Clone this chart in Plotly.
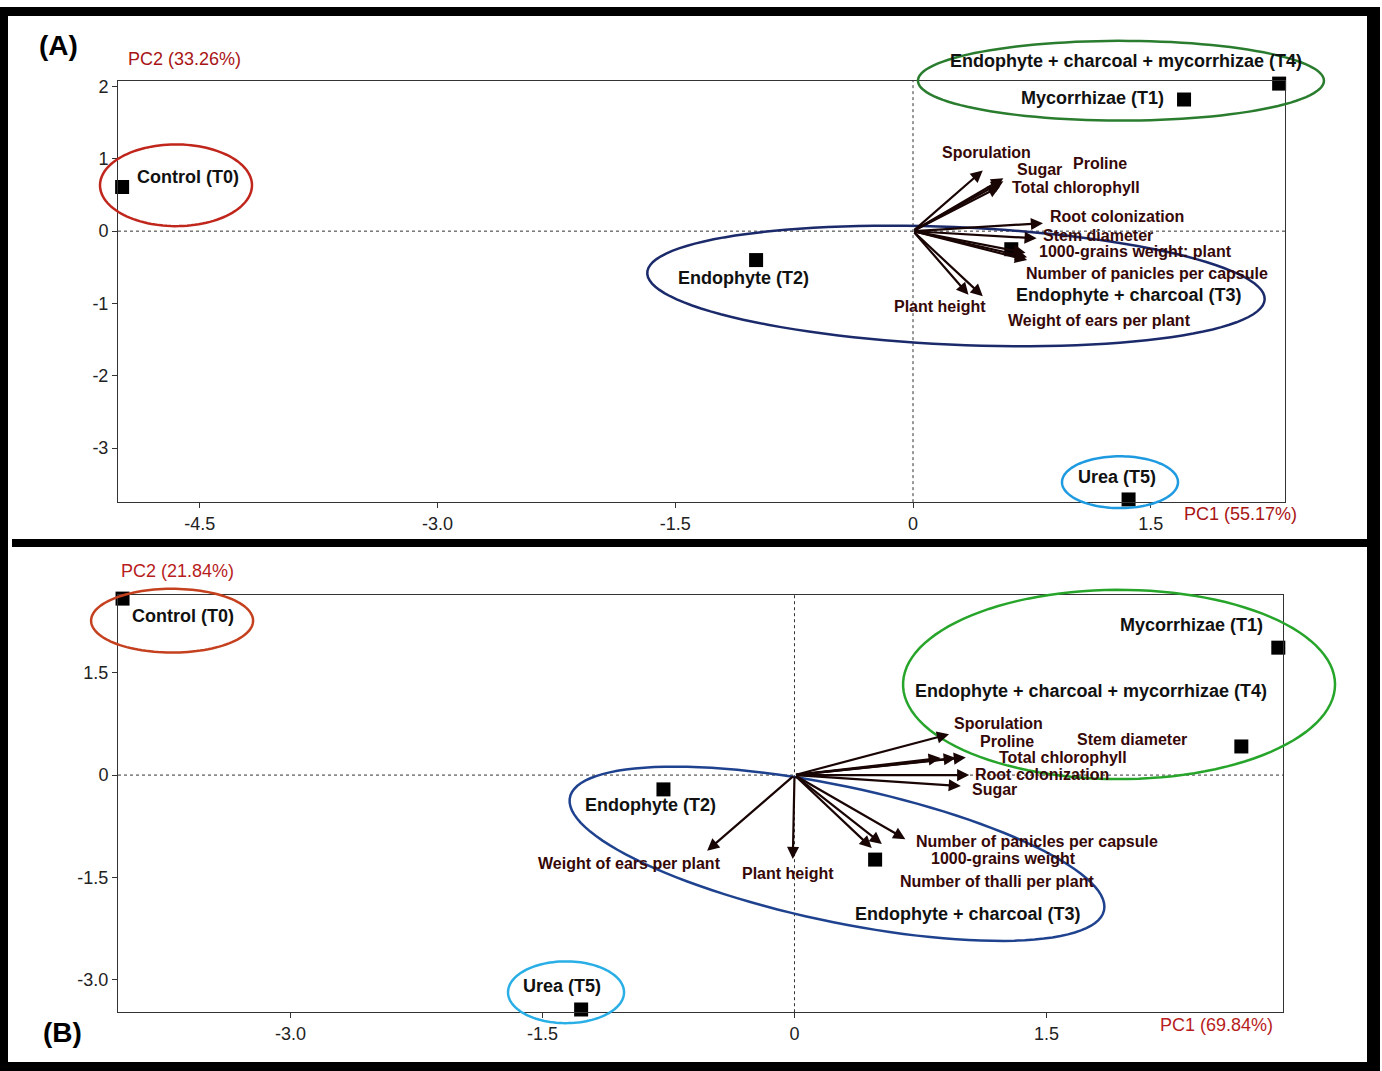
import numpy as np
import plotly.graph_objects as go

W, H = 1382, 1071
FONT = "Liberation Sans, Arial, sans-serif"

# ---------------- panel A ----------------
treat_a = ["Control (T0)", "Mycorrhizae (T1)", "Endophyte (T2)",
           "Endophyte + charcoal (T3)", "Endophyte + charcoal + mycorrhizae (T4)", "Urea (T5)"]
pc1_a = [-4.99, 1.71, -0.99, 0.62, 2.31, 1.36]
pc2_a = [0.61, 1.82, -0.40, -0.25, 2.04, -3.71]

vars_a = ["Sporulation", "Sugar", "Proline", "Total chlorophyll", "Root colonization",
          "Stem diameter", "1000-grains weight", "Number of thalli per plant",
          "Number of panicles per capsule", "Plant height", "Weight of ears per plant"]
# labels as printed (thalli label is hidden under the 1000-grains one)
var_text_a = ["Sporulation", "Sugar", "Proline", "Total chlorophyll", "Root colonization",
              "Stem diameter", "1000-grains weight: plant", "",
              "Number of panicles per capsule", "Plant height", "Weight of ears per plant"]
load1_a = [0.44, 0.57, 0.57, 0.55, 0.82, 0.78, 0.71, 0.72, 0.72, 0.35, 0.44]
load2_a = [0.84, 0.73, 0.69, 0.62, 0.11, -0.10, -0.30, -0.36, -0.40, -0.88, -0.90]

xtick_a = [-4.5, -3.0, -1.5, 0, 1.5]
xtick_text_a = ["-4.5", "-3.0", "-1.5", "0", "1.5"]
ytick_a = [2, 1, 0, -1, -2, -3]
ytick_text_a = ["2", "1", "0", "-1", "-2", "-3"]
pc1_title_a = "PC1 (55.17%)"
pc2_title_a = "PC2 (33.26%)"

# ---------------- panel B ----------------
treat_b = ["Control (T0)", "Mycorrhizae (T1)", "Endophyte (T2)",
           "Endophyte + charcoal (T3)", "Endophyte + charcoal + mycorrhizae (T4)", "Urea (T5)"]
pc1_b = [-4.00, 2.88, -0.78, 0.48, 2.66, -1.27]
pc2_b = [2.59, 1.87, -0.21, -1.24, 0.42, -3.44]

vars_b = ["Sporulation", "Proline", "Total chlorophyll", "Stem diameter", "Root colonization",
          "Sugar", "Number of panicles per capsule", "1000-grains weight",
          "Number of thalli per plant", "Weight of ears per plant", "Plant height"]
var_text_b = list(vars_b)
load1_b = [0.92, 0.87, 1.02, 0.96, 1.04, 0.99, 0.66, 0.52, 0.46, -0.52, -0.01]
load2_b = [0.60, 0.25, 0.26, 0.25, 0.00, -0.16, -0.94, -1.01, -1.07, -1.11, -1.23]

xtick_b = [-3.0, -1.5, 0, 1.5]
xtick_text_b = ["-3.0", "-1.5", "0", "1.5"]
ytick_b = [1.5, 0, -1.5, -3.0]
ytick_text_b = ["1.5", "0", "-1.5", "-3.0"]
pc1_title_b = "PC1 (69.84%)"
pc2_title_b = "PC2 (21.84%)"

# ---------------- placement (pixels) ----------------
# plot box (left, top, right, bottom) and axis ranges
panels = {
    "A": dict(box=(118, 77, 1285, 500), xr=(-5.016, 2.347), yr=(-3.747, 2.08), xa="x", ya="y"),
    "B": dict(box=(118, 593, 1283, 1012), xr=(-4.027, 2.908), yr=(-3.48, 2.646), xa="x2", ya="y2"),
}

LIFT = 2  # small upward nudge so text sits like the original

# label offsets from the marker / arrow tip, (dx right, dy up) in px
treat_off_a = [(66, 8), (-92, 0), (-13, -20), (118, -48), (-153, 21), (-12, 20)]
var_off_a = [(4, 16), (36, 7), (97, 16), (76, -3), (74, 5), (61, 1), (110, -1), (0, 0),
             (120, -15), (-28, -14), (117, -26)]
treat_off_b = [(60, -19), (-87, 21), (-13, -18), (93, -56), (-150, 53), (-19, 21)]
var_off_b = [(49, 9), (66, 15), (97, -2), (176, 17), (73, -1), (34, -6), (132, -4),
             (122, -17), (125, -36), (-78, -15), (-5, -17)]

# group ellipses: panel, centre (data), semi axes (px), tilt (deg), colour
ellipses = [
    ("A", -4.65, 0.634, 76, 41, 0, "#c0261c"),
    ("A", 1.312, 2.080, 203, 40, 0, "#2a7d2e"),
    ("A", 0.271, -0.758, 309, 59, 2.5, "#1b2a6b"),
    ("A", 1.306, -3.471, 58, 26, 0, "#1e9be0"),
    ("B", -3.705, 2.266, 81, 32, 0, "#c4401e"),
    ("B", 1.932, 1.330, 216, 95, 0, "#27a52b"),
    ("B", 0.253, -1.155, 273, 68, 12, "#1f428f"),
    ("B", -1.360, -3.187, 58, 31, 0, "#29aee6"),
]


def to_px(p, x, y):
    l, t, r, b = p["box"]
    px = l + (x - p["xr"][0]) / (p["xr"][1] - p["xr"][0]) * (r - l)
    py = b - (y - p["yr"][0]) / (p["yr"][1] - p["yr"][0]) * (b - t)
    return px, py


def ellipse_path(p, cx, cy, a, b, ang):
    cpx, cpy = to_px(p, cx, cy)
    th = np.deg2rad(ang)
    t = np.linspace(0, 2 * np.pi, 120)
    xs = cpx + a * np.cos(t) * np.cos(th) - b * np.sin(t) * np.sin(th)
    ys = cpy + a * np.cos(t) * np.sin(th) + b * np.sin(t) * np.cos(th)
    pts = ["%.5f %.5f" % (x / W, 1 - y / H) for x, y in zip(xs, ys)]
    return "M " + " L ".join(pts) + " Z"


fig = go.Figure()
annotations = []
shapes = []

panel_data = [
    ("A", treat_a, pc1_a, pc2_a, vars_a, var_text_a, load1_a, load2_a, treat_off_a, var_off_a),
    ("B", treat_b, pc1_b, pc2_b, vars_b, var_text_b, load1_b, load2_b, treat_off_b, var_off_b),
]

for key, treat, s1, s2, vnames, vtext, l1, l2, toff, voff in panel_data:
    p = panels[key]
    fig.add_trace(go.Scatter(
        x=s1, y=s2, mode="markers", xaxis=p["xa"], yaxis=p["ya"],
        marker=dict(symbol="square", size=14, color="black"),
        text=treat, hoverinfo="text", cliponaxis=False, showlegend=False,
    ))
    # treatment labels
    for name, x, y, (dx, dy) in zip(treat, s1, s2, toff):
        annotations.append(dict(
            x=x, y=y, xref=p["xa"], yref=p["ya"], text="<b>%s</b>" % name,
            showarrow=False, xshift=dx, yshift=dy + LIFT,
            font=dict(family=FONT, size=18, color="#111111"),
        ))
    # loading vectors
    for name, txt, x, y, (dx, dy) in zip(vnames, vtext, l1, l2, voff):
        annotations.append(dict(
            x=x, y=y, ax=0, ay=0, xref=p["xa"], yref=p["ya"], axref=p["xa"], ayref=p["ya"],
            text="", showarrow=True, arrowhead=2, arrowsize=1.1, arrowwidth=2.2,
            arrowcolor="#1a0505", standoff=0,
        ))
        if txt:
            annotations.append(dict(
                x=x, y=y, xref=p["xa"], yref=p["ya"], text="<b>%s</b>" % txt,
                showarrow=False, xshift=dx, yshift=dy + LIFT,
                font=dict(family=FONT, size=16, color="#360808"),
            ))
    # dotted zero lines
    shapes.append(dict(type="line", xref=p["xa"], yref=p["ya"] + " domain", x0=0, x1=0, y0=0, y1=1,
                       line=dict(color="#333333", width=1, dash="dot")))
    shapes.append(dict(type="line", xref=p["xa"] + " domain", yref=p["ya"], x0=0, x1=1, y0=0, y1=0,
                       line=dict(color="#333333", width=1, dash="dot")))

for key, cx, cy, a, b, ang, col in ellipses:
    shapes.append(dict(type="path", xref="paper", yref="paper",
                       path=ellipse_path(panels[key], cx, cy, a, b, ang),
                       line=dict(color=col, width=2.5)))

# axis titles and panel tags (pixel centre positions)
def paper_text(px, py, text, size, color, bold=False):
    annotations.append(dict(
        x=px / W, y=1 - (py - LIFT) / H, xref="paper", yref="paper",
        xanchor="center", yanchor="middle",
        text="<b>%s</b>" % text if bold else text, showarrow=False,
        font=dict(family=FONT, size=size, color=color),
    ))

paper_text(184, 57, pc2_title_a, 18, "#a81414")
paper_text(1240, 514, pc1_title_a, 18, "#a81414")
paper_text(177, 571, pc2_title_b, 18, "#b81c1c")
paper_text(1216, 1027, pc1_title_b, 18, "#b81c1c")
paper_text(59, 44, "(A)", 28, "#000000", bold=True)
paper_text(62, 1034, "(B)", 28, "#000000", bold=True)

# thick black frame around both panels
for x0, y0, x1, y1 in [(0, 3, 1380, 12), (0, 3, 8, 1071), (1367, 3, 1380, 1071),
                       (12, 537, 1380, 545), (0, 1062, 1380, 1071)]:
    shapes.append(dict(type="rect", xref="paper", yref="paper",
                       x0=x0 / W, x1=x1 / W, y0=1 - y1 / H, y1=1 - y0 / H,
                       fillcolor="black", line=dict(width=0), layer="above"))

axis_common = dict(showgrid=False, zeroline=False, showline=True, mirror=True,
                   linecolor="#333333", linewidth=1, ticks="outside", ticklen=5,
                   tickcolor="#333333", tickmode="array",
                   tickfont=dict(family=FONT, size=18, color="#222222"))

layout_axes = {}
for key, xt, xtt, yt, ytt, xname, yname, anchor_x, anchor_y in [
    ("A", xtick_a, xtick_text_a, ytick_a, ytick_text_a, "xaxis", "yaxis", "y", "x"),
    ("B", xtick_b, xtick_text_b, ytick_b, ytick_text_b, "xaxis2", "yaxis2", "y2", "x2"),
]:
    l, t, r, b = panels[key]["box"]
    layout_axes[xname] = dict(axis_common, domain=[l / W, r / W], range=list(panels[key]["xr"]),
                              tickvals=xt, ticktext=xtt, anchor=anchor_x)
    layout_axes[yname] = dict(axis_common, domain=[1 - b / H, 1 - t / H], range=list(panels[key]["yr"]),
                              tickvals=yt, ticktext=ytt, anchor=anchor_y)

fig.update_layout(
    width=W, height=H, margin=dict(l=0, r=0, t=0, b=0),
    paper_bgcolor="white", plot_bgcolor="white", showlegend=False,
    annotations=annotations, shapes=shapes, **layout_axes,
)

fig.write_html("out.html", config={"displayModeBar": False},
               post_script="document.body.style.margin='0';")
